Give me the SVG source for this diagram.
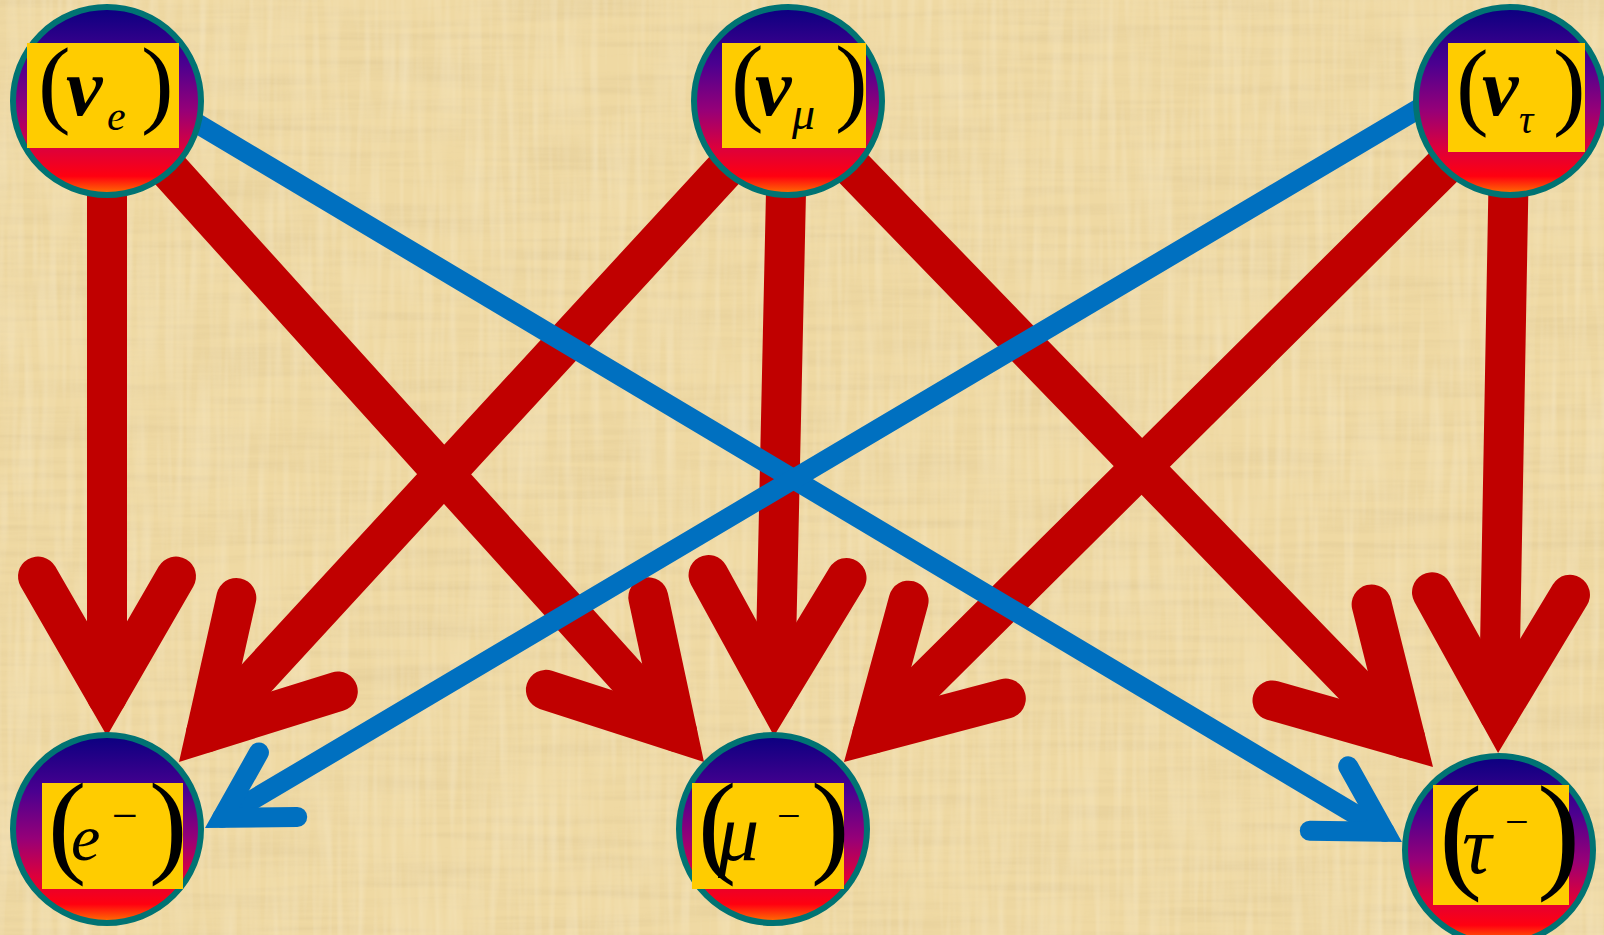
<svg xmlns="http://www.w3.org/2000/svg" width="1604" height="935" viewBox="0 0 1604 935">
<style>
.red{stroke:#C00000;stroke-width:40;stroke-linecap:round;fill:none;marker-end:url(#ahR)}
.blue{stroke:#0070C0;stroke-width:20;stroke-linecap:round;fill:none;marker-end:url(#ahB)}
.ring{fill:url(#grad);stroke:#007373;stroke-width:6}
.box{fill:#FFCC00}
.t{font-family:"Liberation Serif","Times New Roman",serif;fill:#000}
.i{font-style:italic}
.b{font-weight:bold}
</style>
<defs>
<linearGradient id="grad" x1="0" y1="0" x2="0" y2="1">
<stop offset="0" stop-color="#0A0080"/>
<stop offset="0.3" stop-color="#4A0090"/>
<stop offset="0.55" stop-color="#960078"/>
<stop offset="0.75" stop-color="#DC003C"/>
<stop offset="0.9" stop-color="#FF0010"/>
<stop offset="1" stop-color="#FF7A00"/>
</linearGradient>
<marker id="ahR" markerUnits="userSpaceOnUse" orient="auto" viewBox="-160 -160 320 320" markerWidth="320" markerHeight="320" refX="0" refY="0" overflow="visible">
<path d="M-119.5 -69 L0 0 L-119.5 69" fill="none" stroke="#C00000" stroke-width="40" stroke-linecap="round" stroke-linejoin="miter" stroke-miterlimit="4"/>
</marker>
<marker id="ahB" markerUnits="userSpaceOnUse" orient="auto" viewBox="-100 -100 200 200" markerWidth="200" markerHeight="200" refX="0" refY="0" overflow="visible">
<path d="M-64.95 -37.5 L0 0 L-64.95 37.5" fill="none" stroke="#0070C0" stroke-width="20" stroke-linecap="round" stroke-linejoin="miter" stroke-miterlimit="4"/>
</marker>
<filter id="paper" x="0" y="0" width="100%" height="100%">
<feTurbulence type="fractalNoise" baseFrequency="0.006 0.12" numOctaves="3" seed="4" result="n1"/>
<feColorMatrix in="n1" type="matrix" values="0 0 0 0 0.62  0 0 0 0 0.48  0 0 0 0 0.24  0.5 0 0 0 -0.19" result="c1"/>
<feTurbulence type="fractalNoise" baseFrequency="0.12 0.008" numOctaves="2" seed="9" result="n2"/>
<feColorMatrix in="n2" type="matrix" values="0 0 0 0 1  0 0 0 0 0.96  0 0 0 0 0.84  0.45 0 0 0 -0.17" result="c2"/>
<feMerge><feMergeNode in="c1"/><feMergeNode in="c2"/></feMerge>
</filter>
</defs>
<rect width="1604" height="935" fill="#EFD9A3"/>
<rect width="1604" height="935" filter="url(#paper)"/>
<g id="connectors">
<path class="red" d="M107 101 L107 696"/>
<path class="red" d="M107 101 L677.2 732.3"/>
<path class="red" d="M788 101 L206.1 732.6"/>
<path class="red" d="M788 101 L774.9 696"/>
<path class="red" d="M788 101 L1405.2 738.3"/>
<path class="red" d="M1510 101 L872.4 733.8"/>
<path class="red" d="M1510 101 L1498.8 713"/>
<path class="blue" d="M150 95.4 L1384.8 831.8"/>
<path class="blue" d="M1511 54 L222.2 817.8"/>
</g>
<g id="nu_e">
<circle class="ring" cx="107" cy="101" r="94"/>
<rect class="box" x="27" y="43" width="152" height="105"/>
<text class="t"><tspan x="38" y="115" font-size="98">(</tspan><tspan x="66" y="115" font-size="82" class="i b">ν</tspan><tspan x="107" y="130" font-size="42" class="i">e</tspan><tspan x="141" y="115" font-size="98">)</tspan></text>
</g>
<g id="nu_mu">
<circle class="ring" cx="788" cy="101" r="94"/>
<rect class="box" x="722" y="43" width="144" height="105"/>
<text class="t"><tspan x="731" y="113" font-size="98">(</tspan><tspan x="755" y="115" font-size="82" class="i b">ν</tspan><tspan x="792" y="129" font-size="46" class="i">μ</tspan><tspan x="835" y="113" font-size="98">)</tspan></text>
</g>
<g id="nu_tau">
<circle class="ring" cx="1510" cy="101" r="94"/>
<rect class="box" x="1448" y="43" width="137" height="109"/>
<text class="t"><tspan x="1456" y="117" font-size="98">(</tspan><tspan x="1482" y="115" font-size="82" class="i b">ν</tspan><tspan x="1519" y="133" font-size="40" class="i">τ</tspan><tspan x="1553" y="117" font-size="98">)</tspan></text>
</g>
<g id="electron">
<circle class="ring" cx="107" cy="829" r="94"/>
<rect class="box" x="42" y="783" width="141" height="106"/>
<text class="t"><tspan x="48" y="862" font-size="115">(</tspan><tspan x="71" y="860" font-size="66" class="i">e</tspan><tspan x="112" y="831" font-size="46">−</tspan><tspan x="149" y="862" font-size="115">)</tspan></text>
</g>
<g id="muon">
<circle class="ring" cx="773" cy="829" r="94"/>
<rect class="box" x="692" y="783" width="152" height="106"/>
<text class="t"><tspan x="698" y="862" font-size="115">(</tspan><tspan x="718" y="860" font-size="82" class="i">μ</tspan><tspan x="777" y="830" font-size="42">−</tspan><tspan x="811" y="862" font-size="115">)</tspan></text>
</g>
<g id="tau">
<circle class="ring" cx="1499" cy="850" r="94"/>
<rect class="box" x="1433" y="785" width="136" height="120"/>
<text class="t"><tspan x="1439" y="874.6" font-size="130">(</tspan><tspan x="1462" y="873" font-size="82" class="i">τ</tspan><tspan x="1505" y="836" font-size="42">−</tspan><tspan x="1537" y="874.6" font-size="130">)</tspan></text>
</g>
</svg>
